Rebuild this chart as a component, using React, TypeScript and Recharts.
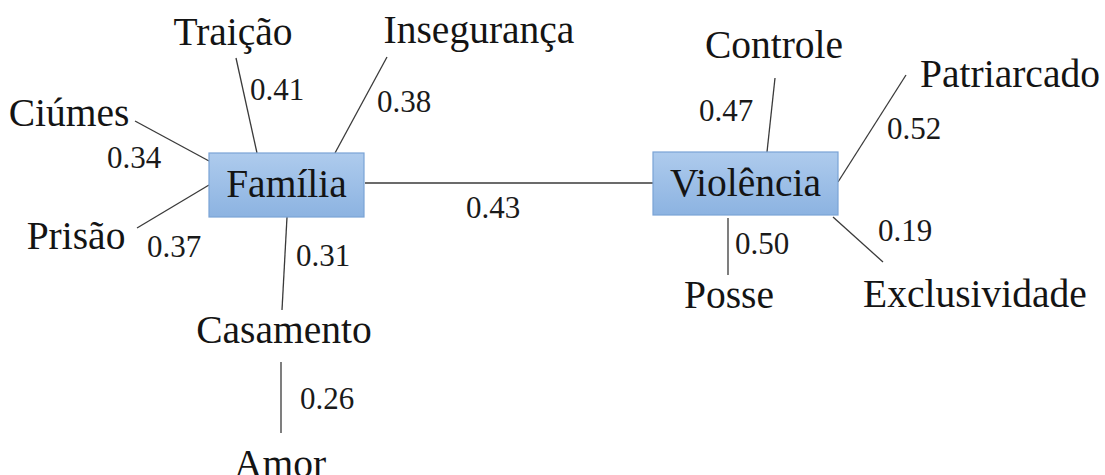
import React from 'react';
import { ComposedChart, Scatter, XAxis, YAxis, ReferenceLine } from 'recharts';

// latent constructs (boxes)
const latentNames = ['Família', 'Violência'];
const latentX = [286.5, 745.5];
const latentY = [185, 183.5];

// observed terms around each construct
const termNames = ['Traição', 'Insegurança', 'Ciúmes', 'Prisão', 'Casamento', 'Amor', 'Controle', 'Patriarcado', 'Exclusividade', 'Posse'];
const termX = [233, 479, 69, 76, 284, 280, 774, 1010, 975, 729];
const termY = [45, 43, 126, 249, 343, 477, 58, 87, 307, 308];

// edge weights and where their numbers sit
const weights = ['0.34', '0.37', '0.41', '0.38', '0.31', '0.26', '0.43', '0.47', '0.52', '0.19', '0.50'];
const weightX = [134, 174, 277, 404, 323, 327, 493, 726, 914, 905, 762];
const weightY = [168, 257, 100, 112, 266, 409, 218, 121, 139, 241, 254];

// edge segments, same order as weights
const edgeFrom = [[209, 161], [209, 185], [257, 153], [335, 153], [287, 217], [281, 362], [365, 183], [767, 152], [838, 182], [833, 217], [728, 218]];
const edgeTo = [[135, 121], [137, 228], [236, 58], [387, 57], [282, 310], [281, 433], [653, 183], [775, 78], [906, 75], [883, 262], [728, 275]];

const latentData = latentNames.map((name, i) => ({ name, x: latentX[i], y: latentY[i] }));
const termData = termNames.map((name, i) => ({ name, x: termX[i], y: termY[i] }));
const weightData = weights.map((name, i) => ({ name, x: weightX[i], y: weightY[i] }));

const FONT = "'Liberation Serif', Tinos, 'DejaVu Serif', serif";
const W = 1105;
const H = 475;

const boxSize: Record<string, [number, number]> = {
  'Família': [155, 64],
  'Violência': [185, 63],
};

const LatentBox = (props: any) => {
  const { cx, cy, payload } = props;
  const [w, h] = boxSize[payload.name];
  return (
    <g>
      <rect x={cx - w / 2} y={cy - h / 2} width={w} height={h} fill="url(#boxFill)" stroke="#7aa3d6" strokeWidth={1.2} />
      <text x={cx} y={cy + 12} textAnchor="middle" style={{ fontFamily: FONT, fontSize: 39.5 }} fill="#141414">
        {payload.name}
      </text>
    </g>
  );
};

const TermLabel = (props: any) => (
  <text x={props.cx} y={props.cy} textAnchor="middle" style={{ fontFamily: FONT, fontSize: 39.5 }} fill="#141414">
    {props.payload.name}
  </text>
);

const WeightLabel = (props: any) => (
  <text x={props.cx} y={props.cy} textAnchor="middle" style={{ fontFamily: FONT, fontSize: 31 }} fill="#1a1a1a">
    {props.payload.name}
  </text>
);

export default function App() {
  return (
    <div style={{ position: 'absolute', left: 0, top: 0, background: '#fff' }}>
      <ComposedChart width={W} height={H} margin={{ top: 0, right: 0, bottom: 0, left: 0 }}>
        <defs>
          <linearGradient id="boxFill" x1="0" y1="0" x2="0" y2="1">
            <stop offset="0%" stopColor="#aecbed" />
            <stop offset="100%" stopColor="#8cb3e1" />
          </linearGradient>
        </defs>
        <XAxis type="number" dataKey="x" domain={[0, W]} allowDataOverflow hide />
        <YAxis type="number" dataKey="y" domain={[0, H]} reversed allowDataOverflow hide />
        {edgeFrom.map((p, i) => (
          <ReferenceLine
            key={i}
            segment={[{ x: p[0], y: p[1] }, { x: edgeTo[i][0], y: edgeTo[i][1] }]}
            stroke="#3a3a3a"
            strokeWidth={1.3}
            ifOverflow="visible"
          />
        ))}
        <Scatter data={latentData} shape={LatentBox} isAnimationActive={false} />
        <Scatter data={termData} shape={TermLabel} isAnimationActive={false} />
        <Scatter data={weightData} shape={WeightLabel} isAnimationActive={false} />
      </ComposedChart>
    </div>
  );
}
